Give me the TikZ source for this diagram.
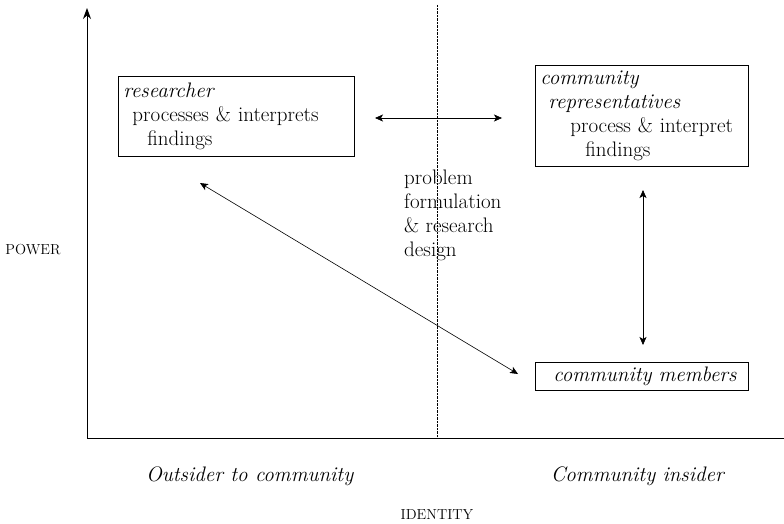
\documentclass[tikz,border=0pt]{standalone}
\usepackage{tikz}
\usetikzlibrary{arrows.meta, calc, positioning}

\begin{document}
\begin{tikzpicture}[x=1pt,y=-1pt,
    box/.style={draw, thick, rectangle, anchor=north west, align=left, inner sep=5pt, font=\fontsize{21}{24}\selectfont},
    lbl/.style={font=\fontsize{21}{24}\selectfont},
    caps/.style={font=\fontsize{14.5}{16}\selectfont},
    dbl/.style={{Stealth[length=8pt,width=7pt,inset=2pt]}-{Stealth[length=8pt,width=7pt,inset=2pt]}, semithick}]
        \useasboundingbox (0,0) rectangle (784,524);

        % axes
        \coordinate (O) at (87,438);
        \coordinate (ytop) at (87,8);
        \coordinate (xend) at (784,438);
        \draw[-{Stealth[length=11pt,width=8pt]}, thick] (O) -- (ytop);
        \draw[thick] (O) -- (xend);
        \draw[densely dotted] (437,5) -- (437,438);

        % boxes
        \node[box, minimum width=236pt, minimum height=80pt, text width=226pt] (res) at (118,76)
            {\textit{researcher}\\\hspace*{9pt}processes \& interprets\\\hspace*{24pt}findings};
        \node[box, minimum width=213pt, minimum height=101pt, text width=203pt] (rep) at (535,65)
            {\textit{community}\\\hspace*{8pt}\textit{representatives}\\\hspace*{30pt}process \& interpret\\\hspace*{45pt}findings};
        \node[box, minimum width=213pt, minimum height=28pt, text width=203pt, inner ysep=2pt] (mem) at (535,362)
            {\hspace*{13pt}\textit{community members}};

        \node[lbl, anchor=north west, align=left, inner sep=0pt] (prob) at (404,170)
            {problem\\formulation\\\& research\\design};

        % arrows
        \coordinate (h1) at (375,118);
        \coordinate (h2) at (502,118);
        \draw[dbl] (h1) -- (h2);
        \coordinate (d1) at (200,183);
        \coordinate (d2) at (518,374);
        \draw[dbl] (d1) -- (d2);
        \coordinate (v1) at (643,190);
        \coordinate (v2) at (643,345);
        \draw[dbl] (v1) -- (v2);

        % axis labels
        \node[caps] (power) at (33,250) {POWER};
        \node[caps] (ident) at (437,515) {IDENTITY};
        \node[lbl] (out) at (250,476) {\textit{Outsider to community}};
        \node[lbl] (ins) at (638,476) {\textit{Community insider}};
    \end{tikzpicture}
\end{document}
